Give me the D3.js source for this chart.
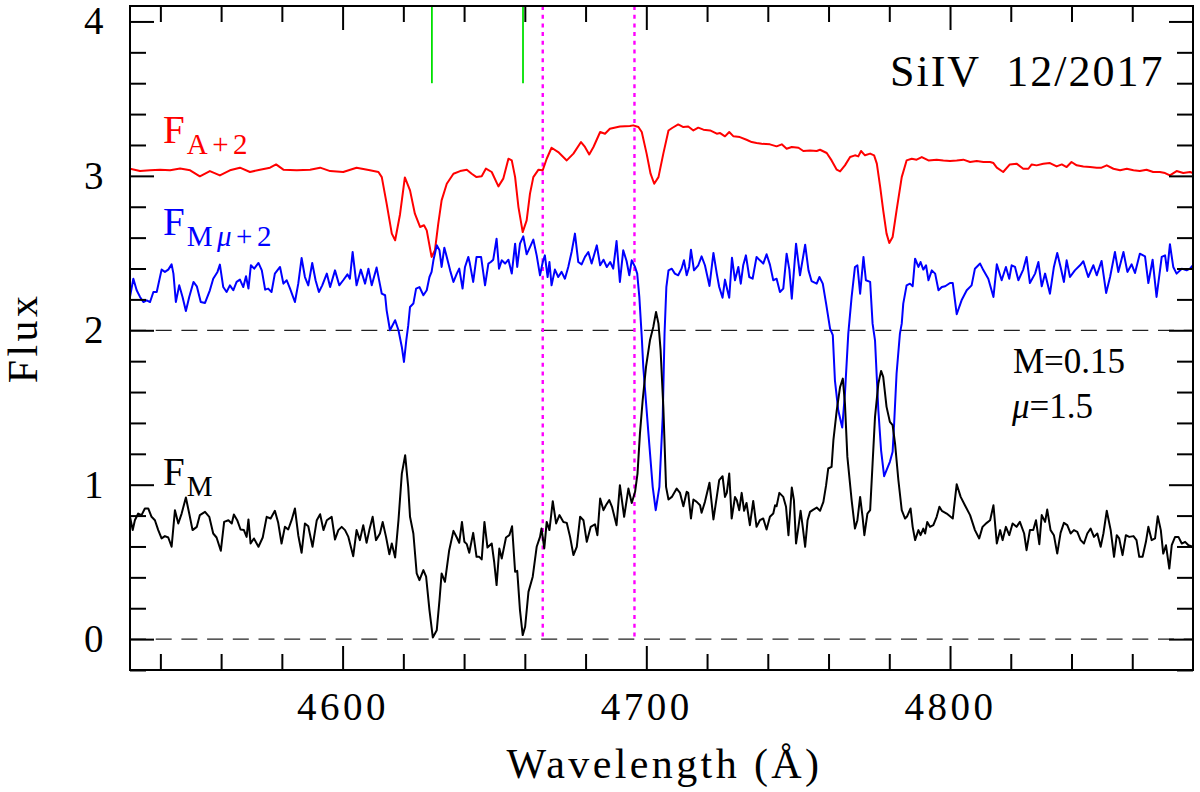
<!DOCTYPE html>
<html>
<head>
<meta charset="utf-8">
<script src="https://cdn.jsdelivr.net/npm/d3@7"></script>
<style>
  html, body { margin: 0; padding: 0; background: #fff; }
  svg { display: block; }
  text { font-family: "Liberation Serif", "Times New Roman", serif; white-space: pre; }
</style>
</head>
<body>
<svg id="chart" width="1200" height="792"></svg>
<script>
// ---------- DATA ----------
const xDomain = [4530, 4880];
const yDomain = [-0.2, 4.1];
const xTickLabels = [4600, 4700, 4800];
const yTickLabels = [0, 1, 2, 3, 4];
const dashedLevels = [0, 2];
const dottedWaves = [4665.9, 4696.1];          // magenta dotted markers
const greenWaves = [4629.4, 4659.4];           // green markers
const greenRange = [3.6, 4.1];

// F_A + 2 (red)
const fluxA = [[4530.0,3.047],[4533.3,3.031],[4536.6,3.036],[4539.9,3.040],[4543.2,3.036],[4546.5,3.047],[4549.8,3.036],[4553.0,2.997],[4556.3,3.031],[4559.6,3.003],[4562.9,3.036],[4566.2,3.053],[4569.5,3.025],[4572.8,3.040],[4576.1,3.053],[4578.1,3.074],[4580.5,3.040],[4584.9,3.036],[4589.3,3.040],[4592.6,3.053],[4595.9,3.031],[4600.2,3.025],[4604.6,3.053],[4609.0,3.036],[4611.8,3.025],[4612.9,2.992],[4614.5,2.820],[4616.2,2.626],[4617.3,2.583],[4618.9,2.750],[4620.5,2.990],[4622.2,2.906],[4623.8,2.755],[4625.5,2.669],[4626.8,2.680],[4627.7,2.647],[4629.3,2.475],[4630.4,2.518],[4631.5,2.690],[4632.6,2.841],[4634.3,2.949],[4636.5,3.014],[4638.7,3.031],[4640.9,3.040],[4642.5,3.014],[4644.1,2.992],[4645.8,2.997],[4647.2,3.047],[4649.1,3.025],[4651.3,2.932],[4652.9,2.982],[4654.6,3.111],[4655.7,3.100],[4656.8,2.992],[4657.9,2.798],[4659.3,2.636],[4660.6,2.712],[4661.7,2.885],[4662.8,2.992],[4664.5,3.040],[4665.9,3.036],[4667.2,3.111],[4668.8,3.182],[4671.0,3.154],[4673.8,3.100],[4676.0,3.144],[4678.5,3.219],[4679.8,3.187],[4681.2,3.139],[4682.6,3.187],[4684.8,3.284],[4686.4,3.273],[4688.0,3.305],[4691.3,3.320],[4694.6,3.323],[4695.7,3.327],[4697.4,3.316],[4698.5,3.284],[4700.1,3.144],[4701.4,3.014],[4702.6,2.949],[4704.0,2.992],[4705.6,3.144],[4707.3,3.294],[4708.5,3.310],[4710.5,3.333],[4712.2,3.316],[4713.8,3.320],[4715.5,3.294],[4717.1,3.312],[4718.8,3.299],[4721.0,3.294],[4723.2,3.273],[4724.3,3.277],[4725.9,3.256],[4727.3,3.284],[4728.7,3.256],[4730.8,3.251],[4733.0,3.234],[4734.7,3.219],[4736.3,3.213],[4738.0,3.208],[4740.7,3.204],[4742.9,3.191],[4744.6,3.204],[4746.2,3.176],[4747.9,3.187],[4750.1,3.182],[4751.7,3.161],[4753.9,3.165],[4756.1,3.161],[4757.2,3.169],[4759.4,3.148],[4761.0,3.100],[4762.7,3.040],[4763.8,3.029],[4765.4,3.068],[4767.1,3.122],[4768.7,3.133],[4769.8,3.126],[4770.7,3.161],[4772.0,3.133],[4773.7,3.144],[4775.0,3.133],[4775.9,3.079],[4777.0,2.928],[4778.0,2.777],[4779.1,2.626],[4780.0,2.565],[4781.1,2.604],[4782.4,2.777],[4784.1,2.992],[4785.7,3.100],[4787.4,3.111],[4789.0,3.105],[4790.7,3.122],[4792.9,3.100],[4795.6,3.105],[4797.8,3.100],[4800.0,3.096],[4802.2,3.100],[4804.4,3.105],[4806.6,3.090],[4808.8,3.096],[4811.0,3.090],[4813.2,3.090],[4814.3,3.083],[4815.4,3.053],[4817.5,3.025],[4819.7,3.074],[4821.9,3.079],[4824.1,3.046],[4825.8,3.046],[4826.9,3.074],[4828.5,3.068],[4830.7,3.079],[4832.9,3.083],[4835.1,3.061],[4836.8,3.074],[4838.4,3.057],[4840.0,3.090],[4841.7,3.068],[4843.9,3.061],[4846.1,3.057],[4848.3,3.053],[4849.9,3.053],[4851.6,3.068],[4853.8,3.046],[4856.0,3.036],[4858.2,3.046],[4860.4,3.036],[4862.5,3.031],[4864.7,3.040],[4866.9,3.025],[4869.1,3.025],[4870.8,3.018],[4872.4,3.003],[4874.6,3.031],[4876.8,3.018],[4879.0,3.025],[4880.0,3.018]];

// F_Mmu + 2 (blue)
const fluxMmu = [[4530.0,2.216],[4531.1,2.334],[4532.2,2.259],[4533.3,2.216],[4534.4,2.183],[4535.5,2.194],[4536.6,2.183],[4537.7,2.248],[4538.8,2.248],[4540.4,2.393],[4541.5,2.378],[4542.6,2.393],[4543.7,2.427],[4544.3,2.367],[4545.1,2.183],[4546.2,2.291],[4547.3,2.216],[4548.4,2.125],[4549.5,2.216],[4550.9,2.313],[4552.0,2.285],[4553.3,2.183],[4554.7,2.177],[4556.3,2.259],[4557.4,2.334],[4558.8,2.378],[4559.6,2.425],[4560.7,2.280],[4561.8,2.248],[4562.9,2.291],[4564.0,2.259],[4565.1,2.313],[4566.2,2.328],[4567.3,2.280],[4568.2,2.350],[4569.0,2.270],[4569.8,2.421],[4570.9,2.399],[4572.3,2.436],[4573.4,2.388],[4574.5,2.263],[4575.5,2.270],[4576.6,2.248],[4577.7,2.367],[4579.4,2.410],[4580.5,2.302],[4581.6,2.324],[4582.7,2.270],[4584.3,2.183],[4585.4,2.302],[4586.5,2.468],[4587.6,2.345],[4588.7,2.291],[4590.0,2.436],[4591.1,2.324],[4592.2,2.248],[4593.3,2.291],[4594.8,2.367],[4595.9,2.280],[4597.5,2.388],[4598.9,2.291],[4600.2,2.324],[4601.6,2.362],[4602.4,2.334],[4603.3,2.507],[4604.6,2.291],[4606.0,2.393],[4607.4,2.302],[4608.5,2.399],[4609.6,2.291],[4611.2,2.406],[4612.9,2.237],[4614.0,2.227],[4614.5,2.129],[4615.6,2.000],[4617.3,2.065],[4618.4,2.000],[4619.5,1.892],[4620.2,1.795],[4621.0,1.940],[4621.6,2.030],[4622.2,2.151],[4623.3,2.173],[4624.2,2.270],[4625.3,2.280],[4626.6,2.227],[4627.7,2.259],[4628.6,2.345],[4629.3,2.378],[4629.9,2.453],[4631.0,2.550],[4631.9,2.518],[4632.6,2.410],[4633.5,2.535],[4634.3,2.475],[4635.4,2.388],[4636.5,2.313],[4637.6,2.367],[4638.4,2.399],[4639.5,2.270],[4640.3,2.410],[4641.4,2.475],[4641.9,2.432],[4643.0,2.313],[4644.1,2.475],[4645.6,2.475],[4646.9,2.291],[4648.0,2.432],[4648.8,2.442],[4649.6,2.457],[4650.7,2.593],[4651.5,2.399],[4652.4,2.453],[4653.5,2.432],[4654.6,2.457],[4655.7,2.367],[4656.8,2.561],[4657.5,2.410],[4658.4,2.561],[4659.5,2.608],[4660.6,2.492],[4661.7,2.539],[4662.8,2.587],[4663.9,2.485],[4665.0,2.356],[4665.9,2.442],[4666.6,2.485],[4667.5,2.345],[4668.1,2.442],[4668.8,2.291],[4669.9,2.393],[4671.0,2.345],[4672.1,2.378],[4673.2,2.334],[4674.3,2.410],[4675.4,2.507],[4676.5,2.626],[4677.6,2.442],[4678.7,2.427],[4679.8,2.475],[4680.9,2.507],[4682.0,2.432],[4683.7,2.550],[4684.8,2.421],[4685.9,2.457],[4687.0,2.410],[4688.1,2.442],[4689.1,2.399],[4690.2,2.578],[4691.3,2.313],[4692.4,2.518],[4693.5,2.449],[4694.4,2.356],[4695.2,2.453],[4696.3,2.410],[4697.0,2.367],[4697.7,2.216],[4698.5,1.957],[4699.0,1.763],[4700.7,1.331],[4702.1,0.986],[4703.1,0.835],[4704.3,0.986],[4705.4,1.439],[4706.0,1.978],[4706.6,2.280],[4707.3,2.388],[4708.4,2.399],[4709.4,2.367],[4710.5,2.356],[4711.6,2.399],[4712.4,2.453],[4713.3,2.356],[4714.1,2.410],[4714.7,2.522],[4715.7,2.388],[4717.1,2.421],[4718.2,2.479],[4719.3,2.421],[4720.8,2.287],[4722.1,2.501],[4723.2,2.367],[4724.0,2.280],[4725.1,2.211],[4725.9,2.328],[4726.7,2.259],[4727.3,2.211],[4728.2,2.470],[4729.2,2.324],[4730.3,2.410],[4731.1,2.302],[4731.9,2.421],[4732.8,2.485],[4733.9,2.345],[4735.0,2.334],[4736.3,2.475],[4737.4,2.453],[4738.5,2.432],[4739.6,2.492],[4740.7,2.425],[4741.8,2.324],[4742.9,2.334],[4744.0,2.248],[4745.1,2.270],[4746.2,2.496],[4747.1,2.393],[4747.9,2.205],[4749.3,2.561],[4750.6,2.356],[4752.3,2.554],[4753.4,2.388],[4754.4,2.319],[4756.1,2.302],[4757.0,2.345],[4758.1,2.302],[4759.2,2.173],[4760.5,2.011],[4761.4,1.968],[4762.1,1.676],[4763.2,1.482],[4764.5,1.370],[4765.4,1.590],[4766.5,1.978],[4767.6,2.216],[4768.7,2.410],[4769.5,2.421],[4770.4,2.237],[4771.5,2.475],[4772.3,2.324],[4773.7,2.313],[4774.5,2.043],[4775.3,1.935],[4776.4,1.482],[4777.3,1.223],[4778.3,1.055],[4779.1,1.094],[4780.2,1.148],[4781.1,1.213],[4781.6,1.396],[4782.4,1.720],[4783.5,1.978],[4784.1,2.043],[4784.6,2.173],[4785.7,2.291],[4786.8,2.302],[4787.7,2.285],[4788.5,2.464],[4789.6,2.410],[4790.3,2.442],[4791.2,2.393],[4792.1,2.421],[4792.9,2.324],[4794.0,2.388],[4795.1,2.367],[4796.2,2.259],[4797.3,2.280],[4798.4,2.285],[4800.0,2.306],[4800.9,2.306],[4802.2,2.104],[4803.8,2.194],[4805.5,2.259],[4807.1,2.291],[4808.2,2.399],[4809.9,2.432],[4811.0,2.388],[4812.6,2.334],[4814.3,2.216],[4815.4,2.427],[4817.0,2.324],[4818.4,2.410],[4819.5,2.334],[4820.3,2.421],[4821.4,2.410],[4822.5,2.324],[4824.1,2.393],[4825.2,2.475],[4826.3,2.306],[4828.0,2.367],[4829.1,2.442],[4830.2,2.285],[4831.3,2.367],[4832.9,2.237],[4834.2,2.410],[4835.3,2.501],[4836.4,2.410],[4837.5,2.313],[4838.4,2.453],[4839.5,2.345],[4841.1,2.388],[4842.8,2.421],[4843.9,2.447],[4845.5,2.345],[4847.2,2.421],[4848.3,2.356],[4849.9,2.449],[4851.4,2.242],[4852.7,2.345],[4854.3,2.507],[4855.4,2.378],[4857.1,2.507],[4858.4,2.378],[4859.8,2.427],[4860.9,2.371],[4862.5,2.496],[4864.2,2.479],[4865.3,2.306],[4866.7,2.457],[4868.0,2.216],[4869.7,2.475],[4870.8,2.485],[4871.5,2.384],[4872.4,2.557],[4873.5,2.410],[4874.6,2.367],[4876.3,2.399],[4877.9,2.388],[4879.0,2.399],[4880.0,2.421]];

// F_M (black)
const fluxM = [[4530.0,0.792],[4530.9,0.706],[4531.6,0.770],[4532.7,0.813],[4533.8,0.803],[4534.9,0.846],[4536.0,0.846],[4537.1,0.792],[4538.2,0.770],[4539.3,0.706],[4540.4,0.652],[4541.5,0.667],[4542.6,0.658],[4543.7,0.598],[4544.8,0.835],[4545.9,0.749],[4547.0,0.813],[4548.4,0.917],[4549.5,0.813],[4550.6,0.706],[4552.0,0.727],[4553.0,0.803],[4554.7,0.824],[4556.1,0.792],[4557.4,0.684],[4558.5,0.658],[4559.9,0.572],[4561.0,0.759],[4562.4,0.770],[4563.5,0.749],[4564.2,0.807],[4565.3,0.770],[4566.4,0.710],[4567.5,0.706],[4568.4,0.662],[4569.0,0.775],[4569.7,0.619],[4570.8,0.652],[4572.3,0.598],[4573.7,0.658],[4575.0,0.792],[4576.3,0.781],[4577.7,0.831],[4578.8,0.753],[4579.9,0.619],[4581.0,0.727],[4582.1,0.710],[4583.2,0.770],[4584.3,0.846],[4585.4,0.673],[4586.5,0.559],[4587.6,0.749],[4588.7,0.731],[4590.1,0.598],[4591.5,0.770],[4592.6,0.809],[4593.7,0.706],[4594.8,0.770],[4596.4,0.792],[4597.5,0.645],[4598.6,0.706],[4599.7,0.727],[4600.8,0.706],[4601.9,0.662],[4603.5,0.537],[4604.6,0.706],[4605.7,0.641],[4606.8,0.738],[4607.9,0.624],[4608.8,0.706],[4609.9,0.792],[4611.0,0.641],[4612.3,0.684],[4613.2,0.759],[4614.3,0.662],[4615.4,0.550],[4616.2,0.619],[4617.3,0.529],[4618.4,0.770],[4619.5,1.072],[4620.6,1.191],[4621.6,0.986],[4622.2,0.792],[4623.3,0.684],[4624.4,0.425],[4625.3,0.382],[4626.6,0.447],[4627.5,0.404],[4628.6,0.188],[4629.7,0.011],[4631.0,0.058],[4631.9,0.252],[4632.6,0.425],[4633.7,0.371],[4635.1,0.576],[4636.5,0.701],[4637.6,0.658],[4638.4,0.624],[4639.3,0.759],[4640.1,0.630],[4640.9,0.615],[4641.7,0.559],[4643.0,0.688],[4644.1,0.533],[4645.0,0.533],[4645.8,0.516],[4646.7,0.759],[4647.7,0.593],[4649.1,0.619],[4649.9,0.501],[4650.7,0.350],[4651.6,0.587],[4652.4,0.522],[4653.8,0.658],[4654.9,0.673],[4655.8,0.731],[4656.8,0.436],[4657.5,0.442],[4658.4,0.188],[4659.3,0.026],[4660.1,0.080],[4661.2,0.306],[4662.6,0.404],[4663.9,0.598],[4665.0,0.662],[4665.5,0.716],[4666.4,0.587],[4667.2,0.759],[4668.1,0.706],[4669.2,0.893],[4670.3,0.749],[4671.4,0.803],[4672.7,0.759],[4673.8,0.753],[4674.9,0.662],[4676.0,0.544],[4677.1,0.598],[4678.2,0.792],[4679.3,0.770],[4680.4,0.630],[4681.7,0.727],[4683.1,0.744],[4683.9,0.673],[4684.8,0.910],[4685.9,0.835],[4686.7,0.867],[4687.8,0.900],[4688.7,0.857],[4690.2,0.738],[4691.3,0.997],[4692.7,0.792],[4694.1,0.975],[4695.2,0.882],[4696.3,0.954],[4697.1,1.072],[4697.9,1.331],[4698.8,1.547],[4699.9,1.763],[4701.2,1.935],[4702.3,2.022],[4703.2,2.119],[4704.0,2.043],[4704.7,1.871],[4705.6,1.504],[4706.5,0.986],[4707.3,0.904],[4708.4,0.921],[4710.0,0.975],[4711.1,0.947],[4712.2,0.861],[4713.3,0.954],[4713.8,0.947],[4714.7,0.781],[4715.5,0.904],[4716.6,0.889],[4717.7,0.867],[4718.2,0.818],[4719.3,0.889],[4720.8,1.012],[4722.1,0.775],[4723.2,0.921],[4724.0,1.029],[4725.1,1.055],[4725.9,0.921],[4726.5,0.947],[4727.3,1.072],[4728.1,0.781],[4729.2,0.921],[4729.8,0.900],[4730.6,0.835],[4731.4,0.947],[4732.2,0.831],[4733.0,0.882],[4734.1,0.738],[4735.2,0.895],[4736.3,0.727],[4737.4,0.770],[4738.5,0.781],[4739.6,0.710],[4740.7,0.792],[4741.8,0.813],[4742.4,0.867],[4742.9,0.861],[4743.8,0.947],[4745.1,0.921],[4746.0,0.857],[4746.8,0.673],[4747.9,0.982],[4748.6,0.900],[4749.3,0.619],[4750.1,0.727],[4750.8,0.831],[4751.5,0.727],[4752.3,0.598],[4753.1,0.770],[4753.9,0.824],[4755.0,0.839],[4756.1,0.852],[4757.2,0.831],[4758.3,0.889],[4759.2,0.997],[4759.9,1.105],[4761.0,1.115],[4761.6,1.288],[4762.7,1.482],[4763.8,1.633],[4764.7,1.687],[4765.4,1.525],[4766.2,1.180],[4767.6,0.900],[4768.7,0.716],[4769.5,0.770],[4770.4,0.921],[4771.2,0.792],[4771.8,0.673],[4772.8,0.813],[4773.7,0.835],[4774.5,1.137],[4775.3,1.439],[4776.4,1.655],[4777.3,1.737],[4778.0,1.698],[4779.1,1.504],[4780.2,1.407],[4781.1,1.385],[4781.9,1.266],[4783.0,1.029],[4784.1,0.835],[4785.2,0.781],[4785.9,0.796],[4787.0,0.846],[4787.7,0.727],[4788.5,0.641],[4789.6,0.706],[4790.3,0.673],[4791.2,0.716],[4791.8,0.684],[4792.5,0.759],[4793.4,0.727],[4794.5,0.738],[4795.6,0.792],[4796.5,0.857],[4797.3,0.831],[4798.9,0.813],[4800.9,0.781],[4802.2,1.003],[4803.5,0.921],[4804.9,0.867],[4806.6,0.803],[4808.2,0.706],[4809.6,0.652],[4810.7,0.727],[4812.1,0.753],[4813.2,0.770],[4814.3,0.867],[4815.4,0.619],[4816.5,0.706],[4817.3,0.641],[4818.4,0.727],[4819.5,0.673],[4820.6,0.749],[4821.9,0.727],[4823.0,0.759],[4824.4,0.684],[4825.2,0.576],[4826.3,0.706],[4827.4,0.706],[4828.3,0.770],[4829.4,0.615],[4830.2,0.803],[4831.3,0.759],[4832.0,0.839],[4833.1,0.706],[4834.2,0.673],[4835.3,0.554],[4836.4,0.688],[4837.5,0.753],[4838.6,0.738],[4839.7,0.684],[4840.8,0.706],[4841.9,0.695],[4843.0,0.641],[4844.1,0.619],[4845.2,0.684],[4846.3,0.716],[4847.4,0.662],[4848.5,0.684],[4849.6,0.598],[4850.5,0.684],[4851.6,0.831],[4852.9,0.706],[4854.0,0.533],[4854.9,0.673],[4855.7,0.652],[4856.8,0.544],[4857.9,0.673],[4859.0,0.662],[4860.4,0.667],[4861.4,0.641],[4862.3,0.533],[4863.4,0.533],[4864.5,0.630],[4865.3,0.727],[4866.4,0.641],[4867.5,0.652],[4868.4,0.796],[4869.4,0.706],[4870.2,0.554],[4871.1,0.608],[4872.2,0.457],[4873.0,0.608],[4874.1,0.662],[4875.2,0.662],[4876.3,0.619],[4877.4,0.630],[4878.5,0.608],[4880.0,0.598]];

// ---------- LAYOUT ----------
const margin = { left: 130, right: 1193, top: 6, bottom: 670 };
const svg = d3.select("#chart");
const x = d3.scaleLinear().domain(xDomain).range([margin.left, margin.right]);
const y = d3.scaleLinear().domain(yDomain).range([margin.bottom, margin.top]);

const xMinor = d3.range(4540, 4880, 20).filter(v => !xTickLabels.includes(v));
const yMinor = d3.range(-1, 21).map(i => i / 5).filter(v => Math.abs(v - Math.round(v)) > 1e-6);

svg.append("defs").append("clipPath").attr("id", "plotclip")
  .append("rect").attr("x", margin.left).attr("y", margin.top)
  .attr("width", margin.right - margin.left).attr("height", margin.bottom - margin.top);

const plot = svg.append("g").attr("clip-path", "url(#plotclip)");

// dashed reference levels
plot.selectAll("line.lvl").data(dashedLevels).enter().append("line")
  .attr("x1", margin.left).attr("x2", margin.right)
  .attr("y1", d => y(d)).attr("y2", d => y(d))
  .attr("stroke", "#222").attr("stroke-width", 1.3).attr("stroke-dasharray", "16,9.7");

// magenta dotted markers
plot.selectAll("line.dot").data(dottedWaves).enter().append("line")
  .attr("x1", d => x(d)).attr("x2", d => x(d))
  .attr("y1", y(yDomain[1])).attr("y2", y(0))
  .attr("stroke", "#ff00ff").attr("stroke-width", 2.4).attr("stroke-dasharray", "4,4.7");

// green markers
plot.selectAll("line.grn").data(greenWaves).enter().append("line")
  .attr("x1", d => x(d)).attr("x2", d => x(d))
  .attr("y1", y(greenRange[0])).attr("y2", y(greenRange[1]))
  .attr("stroke", "#00e000").attr("stroke-width", 1.8);

const line = d3.line().x(d => x(d[0])).y(d => y(d[1]));
const series = [
  { data: fluxA, color: "#ff0000" },
  { data: fluxMmu, color: "#0000ff" },
  { data: fluxM, color: "#000000" }
];
series.forEach(s => {
  plot.append("path").datum(s.data).attr("d", line)
    .attr("fill", "none").attr("stroke", s.color)
    .attr("stroke-width", 2).attr("stroke-linejoin", "round");
});

// ---------- AXES ----------
const fontFam = '"Liberation Serif", serif';
function styleAxis(g) {
  g.select(".domain").remove();
  g.selectAll(".tick line").attr("stroke", "#000").attr("stroke-width", 2);
  g.selectAll(".tick text").attr("fill", "#000")
    .style("font-family", fontFam).style("font-size", "39px").style("letter-spacing", "3.5px");
}
svg.append("g").attr("transform", `translate(0,${margin.bottom})`)
  .call(d3.axisBottom(x).tickValues(xTickLabels).tickSize(-24).tickPadding(22).tickFormat(d3.format("d")))
  .call(styleAxis);
svg.append("g").attr("transform", `translate(0,${margin.bottom})`)
  .call(d3.axisBottom(x).tickValues(xMinor).tickSize(-16).tickFormat(""))
  .call(styleAxis);
svg.append("g").attr("transform", `translate(0,${margin.top})`)
  .call(d3.axisTop(x).tickValues(xTickLabels).tickSize(-24).tickFormat(""))
  .call(styleAxis);
svg.append("g").attr("transform", `translate(0,${margin.top})`)
  .call(d3.axisTop(x).tickValues(xMinor).tickSize(-16).tickFormat(""))
  .call(styleAxis);
svg.append("g").attr("transform", `translate(${margin.left},0)`)
  .call(d3.axisLeft(y).tickValues(yTickLabels).tickSize(-24).tickPadding(23).tickFormat(d3.format("d")))
  .call(styleAxis);
svg.append("g").attr("transform", `translate(${margin.left},0)`)
  .call(d3.axisLeft(y).tickValues(yMinor).tickSize(-16).tickFormat(""))
  .call(styleAxis);
svg.append("g").attr("transform", `translate(${margin.right},0)`)
  .call(d3.axisRight(y).tickValues(yTickLabels).tickSize(-24).tickFormat(""))
  .call(styleAxis);
svg.append("g").attr("transform", `translate(${margin.right},0)`)
  .call(d3.axisRight(y).tickValues(yMinor).tickSize(-16).tickFormat(""))
  .call(styleAxis);

// frame
svg.append("rect").attr("x", margin.left).attr("y", margin.top)
  .attr("width", margin.right - margin.left).attr("height", margin.bottom - margin.top)
  .attr("fill", "none").attr("stroke", "#000").attr("stroke-width", 2);

// ---------- TEXT ----------
svg.append("text").attr("x", (margin.left + margin.right) / 2 + 3).attr("y", 778)
  .attr("text-anchor", "middle").style("font-size", "42px").style("letter-spacing", "3.4px")
  .text("Wavelength (Å)");
svg.append("text").attr("transform", "translate(37,338) rotate(-90)")
  .attr("text-anchor", "middle").style("font-size", "42px").style("letter-spacing", "3.4px")
  .text("Flux");

svg.append("text").attr("x", 890).attr("y", 86)
  .style("font-size", "44px").style("letter-spacing", "2px")
  .text("SiIV  12/2017");

function subLabel(xp, yp, sub, color, italicMu) {
  const t = svg.append("text").attr("x", xp).attr("y", yp).attr("fill", color).style("font-size", "39px");
  t.append("tspan").text("F");
  const s = t.append("tspan").attr("dx", 2).attr("dy", 11).style("font-size", "29px").style("letter-spacing", "4.5px");
  if (italicMu) {
    s.append("tspan").text("M");
    s.append("tspan").style("font-style", "italic").text("μ");
    s.append("tspan").text("+2");
  } else {
    s.text(sub);
  }
}
subLabel(163, 143, "A+2", "#ff0000", false);
subLabel(163, 235, "", "#0000ff", true);
subLabel(163, 485, "M", "#000000", false);

const params = svg.append("g").style("font-size", "35px");
params.append("text").attr("x", 1013).attr("y", 373).text("M=0.15");
const mu = params.append("text").attr("x", 1012).attr("y", 418);
mu.append("tspan").style("font-style", "italic").text("μ");
mu.append("tspan").text("=1.5");
</script>
</body>
</html>
